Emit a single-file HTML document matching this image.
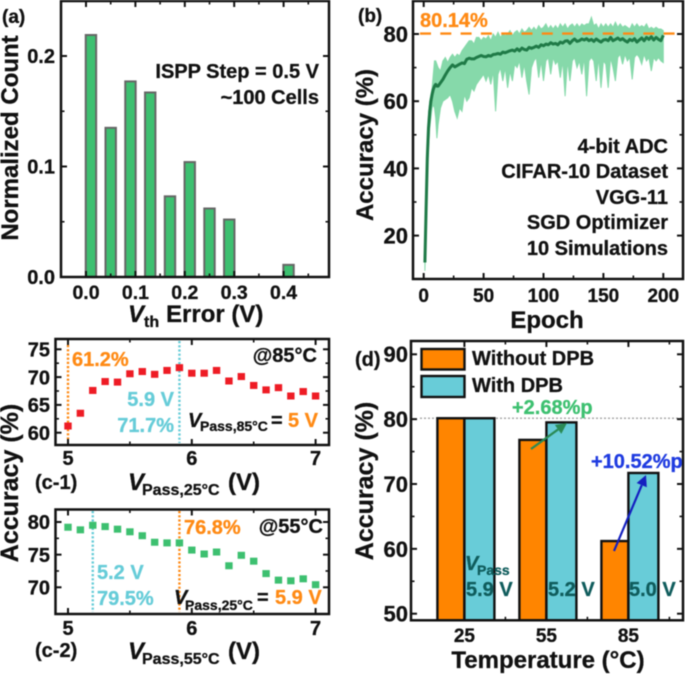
<!DOCTYPE html>
<html lang="en">
<head>
<meta charset="utf-8">
<title>Accuracy chart panels</title>
<style>
html,body{margin:0;padding:0;background:#fff;width:685px;height:674px;overflow:hidden}
svg{display:block;filter:blur(0.55px)}
text{font-family:"Liberation Sans",sans-serif;font-weight:bold;fill:#111;stroke:#111;stroke-width:.3px}
.o{fill:#ff8a14;stroke:#ff8a14}.t{fill:#66ccd8;stroke:#66ccd8}.d{fill:#0f5c5c;stroke:#0f5c5c}.i{font-style:italic}
.g{fill:#3dc070;stroke:#3dc070}.b{fill:#1f3be0;stroke:#1f3be0}
.end{text-anchor:end}.mid{text-anchor:middle}
</style>
</head>
<body>
<svg id="fig" xmlns="http://www.w3.org/2000/svg" width="685" height="674" viewBox="0 0 685 674">
<g id="pa"></g>
<g id="pb"></g>
<g id="pc1"></g>
<g id="pc2"></g>
<g id="pd"></g>
<g id="labels">
<text x="2" y="23" font-size="19">(a)</text>
<text class="end" x="319" y="78" font-size="20">ISPP Step = 0.5 V</text>
<text class="end" x="319" y="104" font-size="20">~100 Cells</text>
<text class="mid" font-size="24" transform="translate(18,138) rotate(-90)">Normalized Count</text>
<text class="i" x="128" y="322" font-size="24">V</text>
<text x="144" y="327" font-size="16">th</text>
<text x="166" y="322" font-size="24">Error (V)</text>

<text x="358" y="22" font-size="19">(b)</text>
<text class="o" x="420" y="27" font-size="20">80.14%</text>
<text class="mid" font-size="24" transform="translate(373,145) rotate(-90)">Accuracy (%)</text>
<text class="mid" x="547" y="328" font-size="24">Epoch</text>
<text class="end" x="668" y="153" font-size="20">4-bit ADC</text>
<text class="end" x="668" y="178" font-size="20">CIFAR-10 Dataset</text>
<text class="end" x="668" y="204" font-size="20">VGG-11</text>
<text class="end" x="668" y="229" font-size="20">SGD Optimizer</text>
<text class="end" x="668" y="255" font-size="20">10 Simulations</text>

<text class="mid" font-size="25" transform="translate(18,483) rotate(-90)">Accuracy (%)</text>
<text class="end" x="317" y="362" font-size="20">@85°C</text>
<text class="o" x="72" y="366" font-size="20">61.2%</text>
<text class="t end" x="174" y="406" font-size="20">5.9 V</text>
<text class="t end" x="174" y="432" font-size="20">71.7%</text>
<text class="i" x="188" y="427" font-size="20">V</text>
<text x="200" y="431" font-size="14">Pass,85°C</text>
<text x="271" y="427" font-size="20">=</text>
<text class="o end" x="318" y="427" font-size="20">5 V</text>
<text x="35" y="489" font-size="20">(c-1)</text>
<text class="i" x="128" y="490" font-size="24">V</text>
<text x="142" y="495" font-size="16">Pass,25°C</text>
<text x="228" y="490" font-size="24">(V)</text>

<text class="end" x="323" y="533" font-size="20">@55°C</text>
<text class="o" x="184" y="534" font-size="20">76.8%</text>
<text class="t" x="97" y="579" font-size="20">5.2 V</text>
<text class="t" x="97" y="605" font-size="20">79.5%</text>
<text class="i" x="174" y="604" font-size="20">V</text>
<text x="185" y="610" font-size="14">Pass,25°C</text>
<text x="257" y="604" font-size="20">=</text>
<text class="o" x="275" y="604" font-size="20">5.9 V</text>
<text x="35" y="657" font-size="20">(c-2)</text>
<text class="i" x="128" y="659" font-size="24">V</text>
<text x="142" y="664" font-size="16">Pass,55°C</text>
<text x="228" y="659" font-size="24">(V)</text>

<text x="355" y="366" font-size="20">(d)</text>
<text class="mid" font-size="25" transform="translate(373,481) rotate(-90)">Accuracy (%)</text>
<text class="mid" x="548" y="668" font-size="24">Temperature (°C)</text>
<rect x="421.5" y="349" width="43" height="20.5" fill="#ff8500" stroke="#111" stroke-width="2.4"/>
<rect x="421.5" y="376" width="43" height="21" fill="#68ccd8" stroke="#111" stroke-width="2.4"/>
<text x="472" y="365" font-size="20">Without DPB</text>
<text x="472" y="392" font-size="20">With DPB</text>
<text class="g" x="512" y="414" font-size="20">+2.68%p</text>
<text class="b" x="591" y="468" font-size="20">+10.52%p</text>
<text class="d i" x="465" y="570" font-size="20">V</text>
<text class="d" x="477" y="575" font-size="14">Pass</text>
<text class="d" x="466" y="596" font-size="20">5.9 V</text>
<text class="d" x="548" y="596" font-size="20">5.2 V</text>
<text class="d" x="629" y="596" font-size="20">5.0 V</text>
</g>
</svg>
<script>
// Panel (a)
var errorBins = [0.01, 0.05, 0.09, 0.13, 0.17, 0.21, 0.25, 0.29, 0.41];
var errorCounts = [0.219, 0.135, 0.177, 0.167, 0.073, 0.104, 0.062, 0.052, 0.011];
var aXTicks = [0, 0.1, 0.2, 0.3, 0.4];
var aYTicks = [0, 0.1, 0.2];

// Panel (b)
var epochs = [
1,2,3,4,5,6,7,8,9,10,
11,12,14,16,18,20,22,24,26,28,
30,32,34,36,38,40,42,44,46,48,
50,52,54,56,58,60,62,64,66,68,
70,72,74,76,78,80,82,84,86,88,
90,92,94,96,98,100,102,104,106,108,
110,112,114,116,118,120,122,124,126,128,
130,132,134,136,138,140,142,144,146,148,
150,152,154,156,158,160,162,164,166,168,
170,172,174,176,178,180,182,184,186,188,
190,192,194,196,198,200];
var accuracyUpper = [
13,30,47,56,60,62,64,68,72,72,
71,70,69,72,73,71.5,73,74,73,74,
73.5,75,76,77,78,78,77,79,79,78,
79,78.5,79.5,78,80,79,80.5,79,80,79.5,
80,81,79.5,80.5,81,80,81.5,80.5,81,82,
81,82,81,82.5,81.5,82,83,81.5,82.5,81.5,
82.5,81.5,83,82,83,81.5,82.5,83,82,83,
82,83,82.5,83,83,85,82.5,83,81.5,83,
82,83,82,83,82,83.5,82,83,82,82.5,
82,81.5,83,82,83,82,82.5,82,83,81.5,
82,81.5,82,81.5,81.5,81];
var accuracyLower = [
9.5,22,38,46,52,55,58,59,58,55,
49,53,58,60,60.5,61,62,60,57,55,
58,57,62,60,61,64,63,65,66,67,
68,66,68,65,69,57,68,70,66,70,
64,69,66,71,70,72,67,71,66,62,
70,72,73,67,72,66,72,73,68,73,
71,72,67,72,61.5,72,66,72,73,70,
72,68,73,61.5,72,73,72,66,73,64,
72,71,64,73,70,66,73,74,71,74,
72,73,66.5,73,74,73,71,74,72,73,
69,73,72,73,72,71.5];
var accuracyMean = [
12,28,43,52,57,60,62,63.5,64.5,65,
64.5,64.5,65.5,66.5,67.8,69,70,70.8,70.2,70.6,
71,71.4,71.2,72.5,72.8,72.6,72.6,73,73.3,73.6,
73.3,73.2,73.6,73.4,73.9,74,74.2,74,74.6,74.4,
74.7,75,75.2,74.9,75.6,75,75.8,75.4,75.2,76,
75.7,76,76.4,76,76.8,76.5,77,76.8,77.4,77,
77.2,76.8,77.6,77.3,77.9,78,77.2,78,78.5,77.8,
78,78.5,78.2,78.6,78,78.4,77.8,78.5,78,77.6,
78.2,78.4,78,79,78,78.4,78.8,78.2,78.6,78,
77.6,78.4,78,78.6,77.6,78.2,78.8,78,79,78.4,
79.2,78.2,79,78.4,78,79.6];
var bestAccuracy = [80.14];
var bXTicks = [0, 50, 100, 150, 200];
var bYTicks = [20, 40, 60, 80];

// Panels (c-1), (c-2)
var vPass = [5,5.1,5.2,5.3,5.4,5.5,5.6,5.7,5.8,5.9,6,6.1,6.2,6.3,6.4,6.5,6.6,6.7,6.8,6.9,7];
var accuracy85 = [61.2,63.5,67.6,69.2,69.1,70.6,71.0,70.5,71.2,71.7,70.7,70.7,71.2,69.3,70.1,68.5,67.7,68.1,66.6,67.4,66.6];
var accuracy55 = [79.2,78.8,79.5,79.3,78.9,78.5,77.9,76.9,76.8,76.8,75.7,75.1,75.4,73.3,74.9,74.0,72.1,71.1,71.0,71.3,70.4];
var cXTicks = [5, 6, 7];
var c1YTicks = [60, 65, 70, 75];
var c2YTicks = [70, 75, 80];

// Panel (d)
var temperatures = [25, 55, 85];
var withoutDpb = [80.14, 76.8, 61.2];
var withDpb = [80.14, 79.5, 71.7];
var dYTicks = [50, 60, 70, 80, 90];

var NS = 'http://www.w3.org/2000/svg';
function mk(tag, attrs, parent) {
  var el = document.createElementNS(NS, tag);
  for (var k in attrs) { el.setAttribute(k, attrs[k]); }
  parent.appendChild(el);
  return el;
}
function drawAxes(g, box, xs, ys, xTicks, yTicks, xMinor, yMinor, fs, yFs, xBase, yLabelRight, xFmt, yFmt) {
  var frame = mk('rect', {x: box.l, y: box.t, width: box.r - box.l, height: box.b - box.t, fill: 'none', stroke: '#111', 'stroke-width': 2.5}, g);
  
  
  xTicks.forEach(function (v) {
    var x = xs(v);
    [[box.b, box.b - 6], [box.t, box.t + 6]].forEach(function (p) {
      var t = mk('line', {x1: x, x2: x, y1: p[0], y2: p[1], stroke: '#111', 'stroke-width': 2}, g);
      
      
    });
    var lab = mk('text', {x: x, y: xBase, 'font-size': fs, 'text-anchor': 'middle'}, g);
    lab.textContent = xFmt(v);
    
    
  });
  xMinor.forEach(function (v) {
    var x = xs(v);
    [[box.b, box.b - 3.5], [box.t, box.t + 3.5]].forEach(function (p) {
      var t = mk('line', {x1: x, x2: x, y1: p[0], y2: p[1], stroke: '#111', 'stroke-width': 1.6}, g);
      
      
    });
  });
  yTicks.forEach(function (v) {
    var y = ys(v);
    [[box.l, box.l + 6], [box.r, box.r - 6]].forEach(function (p) {
      var t = mk('line', {x1: p[0], x2: p[1], y1: y, y2: y, stroke: '#111', 'stroke-width': 2}, g);
      
      
    });
    var lab = mk('text', {x: yLabelRight, y: y + yFs * 0.36, 'font-size': yFs, 'text-anchor': 'end'}, g);
    lab.textContent = yFmt(v);
    
    
  });
  yMinor.forEach(function (v) {
    var y = ys(v);
    [[box.l, box.l + 3.5], [box.r, box.r - 3.5]].forEach(function (p) {
      var t = mk('line', {x1: p[0], x2: p[1], y1: y, y2: y, stroke: '#111', 'stroke-width': 1.6}, g);
      
      
    });
  });
}
function plain(v) { return String(v); }
function oneDec(v) { return v.toFixed(1); }

// ---- Panel a ----
var xA = function (v) { return 86 + v * 494; };
var yA = function (v) { return 277 - v * 1105; };
var pa = document.getElementById('pa');
errorBins.forEach(function (b, i) {
  var r = mk('rect', {x: xA(b) - 5.2, y: yA(errorCounts[i]), width: 10.4, height: yA(0) - yA(errorCounts[i]), fill: '#3dc070', stroke: '#666', 'stroke-width': 2}, pa);
  
  
});
drawAxes(pa, {l: 61, r: 329, t: 1, b: 277}, xA, yA, aXTicks, aYTicks, [0.05, 0.15, 0.25, 0.35, 0.45], [0.05, 0.15], 19.5, 20, 299, 55, oneDec, oneDec);

// ---- Panel b ----
var xB = function (v) { return 423.7 + v * 1.198; };
var yB = function (v) { return 34 + (80 - v) * 3.36; };
var pb = document.getElementById('pb');
var bandPts = [];
epochs.forEach(function (e, i) { bandPts.push(xB(e).toFixed(1) + ',' + yB(accuracyUpper[i]).toFixed(1)); });
for (var bi = epochs.length - 1; bi >= 0; bi--) { bandPts.push(xB(epochs[bi]).toFixed(1) + ',' + yB(accuracyLower[bi]).toFixed(1)); }
var band = mk('polygon', {points: bandPts.join(' '), fill: '#86d9aa', stroke: '#86d9aa', 'stroke-width': 1}, pb);


var bestLine = mk('line', {x1: 420, x2: 676, y1: yB(bestAccuracy[0]), y2: yB(bestAccuracy[0]), stroke: '#ff8a14', 'stroke-width': 2.4, 'stroke-dasharray': '11 9.3'}, pb);


var meanPts = epochs.map(function (e, i) { return xB(e).toFixed(1) + ',' + yB(accuracyMean[i]).toFixed(1); });
var meanLine = mk('polyline', {points: meanPts.join(' '), fill: 'none', stroke: '#1f7a47', 'stroke-width': 3, 'stroke-linejoin': 'round'}, pb);


drawAxes(pb, {l: 413, r: 683, t: 1, b: 279}, xB, yB, bXTicks, bYTicks, [25, 75, 125, 175], [30, 50, 70], 19, 22, 302, 408, plain, plain);

// ---- Panels c ----
var xC = function (v) { return 68 + (v - 5) * 123.8; };
var y1 = function (v) { return 432.7 - (v - 60) * 5.56; };
var y2 = function (v) { return 587.3 - (v - 70) * 6.53; };
function vLine(g, x, top, bottom, color, name) {
  var l = mk('line', {x1: x, x2: x, y1: top, y2: bottom, stroke: color, 'stroke-width': 2.4, 'stroke-dasharray': '2.2 2'}, g);
  
  
}
var pc1 = document.getElementById('pc1');
vLine(pc1, xC(5), 345, 439, '#ff8a14', 'marker-line-5v');
vLine(pc1, xC(5.9), 341, 443, '#66ccd8', 'marker-line-5-9v');
accuracy85.forEach(function (a, i) {
  var s = mk('rect', {x: xC(vPass[i]) - 3.7, y: y1(a) - 3.5, width: 7.4, height: 7, fill: '#ee1c25'}, pc1);
  
  
});
drawAxes(pc1, {l: 55.5, r: 329, t: 339, b: 445}, xC, y1, cXTicks, c1YTicks, [5.5, 6.5], [62.5, 67.5, 72.5], 20, 20, 465, 50, plain, plain);

var pc2 = document.getElementById('pc2');
vLine(pc2, xC(5.2), 511, 612, '#66ccd8', 'marker-line-5-2v');
vLine(pc2, xC(5.9), 511, 612, '#ff8a14', 'marker-line-5-9v-orange');
accuracy55.forEach(function (a, i) {
  var s = mk('rect', {x: xC(vPass[i]) - 3.7, y: y2(a) - 3.5, width: 7.4, height: 7, fill: '#3dc070'}, pc2);
  
  
});
drawAxes(pc2, {l: 55.5, r: 329, t: 509.5, b: 614}, xC, y2, cXTicks, c2YTicks, [5.5, 6.5], [72.5, 77.5], 20, 20, 635, 50, plain, plain);

// ---- Panel d ----
var yD = function (v) { return 613.7 - (v - 50) * 6.485; };
var xD = function (i) { return 464.4 + i * 82; };
var pd = document.getElementById('pd');
var baseD = 620.3;
var ref80 = mk('line', {x1: 420, x2: 683, y1: yD(80.14), y2: yD(80.14), stroke: '#aaa', 'stroke-width': 1.5, 'stroke-dasharray': '2 2'}, pd);


temperatures.forEach(function (t, i) {
  var o = mk('rect', {x: xD(i) - 27, y: yD(withoutDpb[i]), width: 27, height: baseD - yD(withoutDpb[i]), fill: '#ff8500', stroke: '#111', 'stroke-width': 2.4}, pd);
  
  
  var w = mk('rect', {x: xD(i), y: yD(withDpb[i]), width: 30, height: baseD - yD(withDpb[i]), fill: '#68ccd8', stroke: '#111', 'stroke-width': 2.4}, pd);
  
  
});
function arrow(g, x1, y1v, x2, y2v, color, name) {
  var ang = Math.atan2(y2v - y1v, x2 - x1), len = 11, hw = 5.5;
  var bx = x2 - len * Math.cos(ang), by = y2v - len * Math.sin(ang);
  var l = mk('line', {x1: x1, y1: y1v, x2: bx, y2: by, stroke: color, 'stroke-width': 2.2}, g);
  
  
  var pts = x2 + ',' + y2v + ' ' + (bx - hw * Math.sin(ang)) + ',' + (by + hw * Math.cos(ang)) + ' ' + (bx + hw * Math.sin(ang)) + ',' + (by - hw * Math.cos(ang));
  var h = mk('polygon', {points: pts, fill: color}, g);
  
  
}
arrow(pd, 531, 449, 567, 423, '#2a8a55', 'gain-arrow-55');
arrow(pd, 614, 551, 646, 475, '#1420c0', 'gain-arrow-85');
var dTickVals = [0, 1, 2];
drawAxes(pd, {l: 411, r: 683, t: 341, b: 620.3}, xD, yD, dTickVals, dYTicks, [0.5, 1.5, 2.5], [55, 65, 75, 85], 19, 22, 642, 408,
  function (i) { return String(temperatures[i]); }, plain);
</script>
</body>
</html>
